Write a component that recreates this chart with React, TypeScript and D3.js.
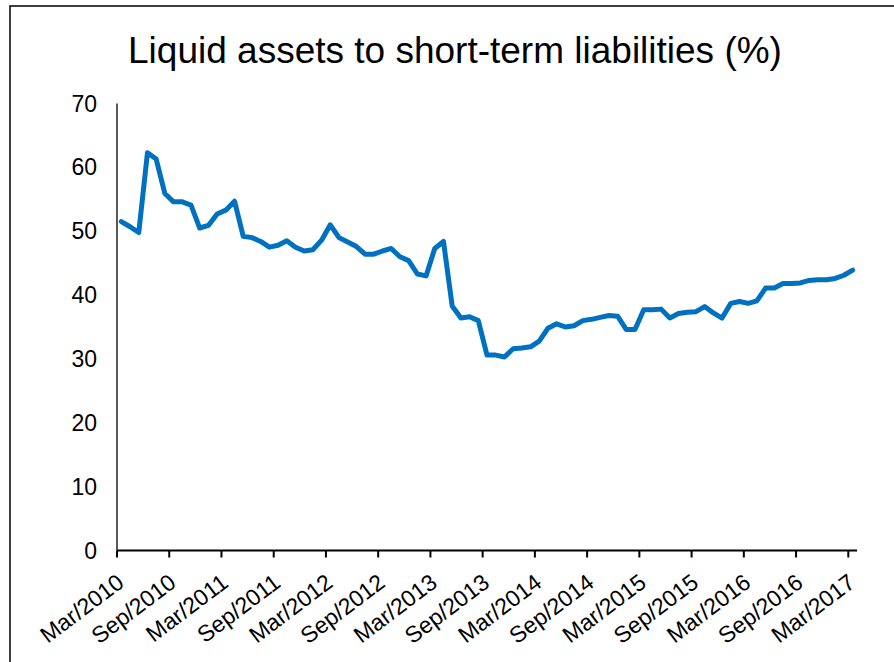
import * as d3 from "d3";

// monthly, Mar/2010 .. Mar/2017
const ratio = [
  51.5, 50.7, 49.8, 62.3, 61.3, 55.9, 54.6, 54.6, 54.1, 50.5, 50.9, 52.7,
  53.3, 54.7, 49.2, 49.0, 48.4, 47.5, 47.8, 48.5, 47.5, 46.9, 47.1, 48.6,
  51.0, 49.0, 48.3, 47.6, 46.4, 46.4, 46.9, 47.3, 46.0, 45.4, 43.3, 43.0,
  47.3, 48.4, 38.3, 36.4, 36.6, 36.0, 30.6, 30.6, 30.3, 31.6, 31.7, 31.9,
  32.8, 34.8, 35.5, 35.0, 35.2, 36.0, 36.2, 36.5, 36.8, 36.7, 34.6, 34.6,
  37.7, 37.7, 37.8, 36.4, 37.1, 37.3, 37.4, 38.2, 37.2, 36.4, 38.7, 39.0,
  38.7, 39.1, 41.1, 41.1, 41.8, 41.8, 41.9, 42.3, 42.4, 42.4, 42.6, 43.1,
  43.9,
];

const tickLabels = [
  "Mar/2010", "Sep/2010", "Mar/2011", "Sep/2011", "Mar/2012",
  "Sep/2012", "Mar/2013", "Sep/2013", "Mar/2014", "Sep/2014",
  "Mar/2015", "Sep/2015", "Mar/2016", "Sep/2016", "Mar/2017",
];

const yTicks = [0, 10, 20, 30, 40, 50, 60, 70];

const title = "Liquid assets to short-term liabilities (%)";

const W = 894;
const H = 662;
const font = "Arial, 'Liberation Sans', sans-serif";

export default function App() {
  const x = d3.scaleLinear().domain([0, ratio.length]).range([117, 857]);
  const y = d3.scaleLinear().domain([0, 70]).range([550.5, 103.5]);

  const line = d3
    .line<number>()
    .x((_, i) => x(i + 0.5))
    .y((d) => y(d));

  return (
    <svg
      width={W}
      height={H}
      style={{ position: "absolute", left: 0, top: 0, background: "#fff" }}
      fontFamily={font}
    >
      <rect x={10} y={6} width={900} height={700} fill="none" stroke="#000" strokeWidth={1.5} />

      <text x={455} y={63} textAnchor="middle" fontSize={37} fill="#000">
        {title}
      </text>

      {yTicks.map((t) => (
        <text key={t} x={97} y={y(t)} dy="0.35em" textAnchor="end" fontSize={23} fill="#000">
          {t}
        </text>
      ))}
      <line x1={x(0)} x2={x(0)} y1={y(70)} y2={y(0)} stroke="#000" strokeWidth={1.3} />

      <line x1={x(0)} x2={x(ratio.length)} y1={y(0)} y2={y(0)} stroke="#000" strokeWidth={2} />
      {tickLabels.map((lab, i) => {
        const tx = x(i * 6);
        return (
          <g key={lab}>
            <line x1={tx} x2={tx} y1={y(0)} y2={y(0) + 7} stroke="#000" strokeWidth={2} />
            <text
              transform={`translate(${tx + 3.5},579) rotate(-37)`}
              dy="0.35em"
              textAnchor="end"
              fontSize={23}
              fill="#000"
            >
              {lab}
            </text>
          </g>
        );
      })}

      <path
        d={line(ratio) ?? ""}
        fill="none"
        stroke="#0070C0"
        strokeWidth={5}
        strokeLinejoin="round"
        strokeLinecap="round"
      />
    </svg>
  );
}
